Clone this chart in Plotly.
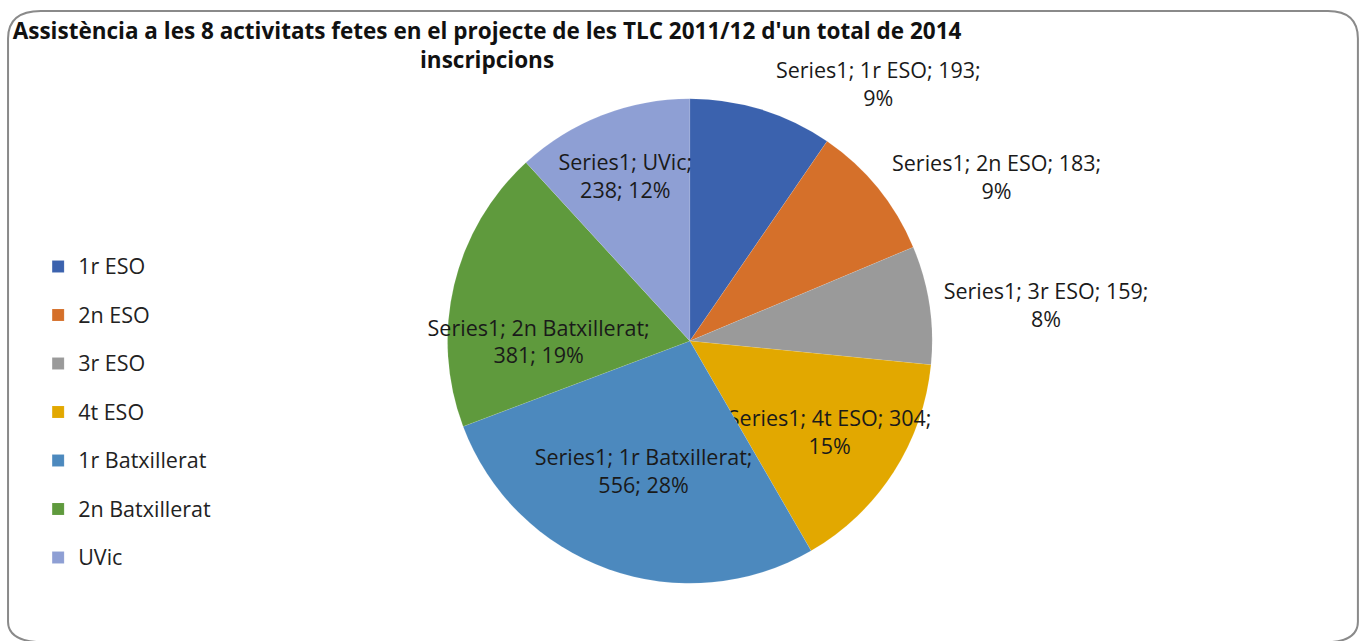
import plotly.graph_objects as go

# ---- data ----
series_name = "Series1"
categories = ["1r ESO", "2n ESO", "3r ESO", "4t ESO", "1r Batxillerat", "2n Batxillerat", "UVic"]
values = [193, 183, 159, 304, 556, 381, 238]
pct_labels = ["9%", "9%", "8%", "15%", "28%", "19%", "12%"]
title_line1 = "Assistència a les 8 activitats fetes en el projecte de les TLC 2011/12 d'un total de 2014"
title_line2 = "inscripcions"

colors = ["#3B62AE", "#D5702A", "#9A9A9A", "#E2A800", "#4C89BE", "#5F9A3D", "#8E9FD4"]
text_positions = ["outside", "outside", "outside", "inside", "inside", "inside", "inside"]
tpl_a = series_name + "; %{text}; %{value};<br>%{customdata}"
tpl_b = series_name + "; %{text};<br>%{value}; %{customdata}"
templates = [tpl_a, tpl_a, tpl_a, tpl_a, tpl_b, tpl_b, tpl_b]

FONT = "'Open Sans', Lato, sans-serif"
legend_label_style = "font-size:21.5px;baseline-shift:6.5px"

fig = go.Figure(
    go.Pie(
        labels=[f'<span style="{legend_label_style}">{c}</span>' for c in categories],
        text=categories,
        values=values,
        customdata=pct_labels,
        texttemplate=templates,
        textposition=text_positions,
        insidetextorientation="horizontal",
        sort=False,
        direction="clockwise",
        rotation=0,
        marker=dict(colors=colors, line=dict(color="rgba(255,255,255,0.2)", width=0.5)),
        textfont=dict(family=FONT, size=21.5, color="#1a1a1a"),
        domain=dict(x=[0.2, 0.813], y=[0.09, 0.846]),
        hovertemplate="%{text}: %{value} (%{customdata})<extra></extra>",
    )
)

fig.update_layout(
    width=1362,
    height=641,
    margin=dict(l=0, r=0, t=0, b=0, autoexpand=False),
    paper_bgcolor="white",
    plot_bgcolor="white",
    font=dict(family=FONT, color="#1a1a1a"),
    uniformtext=dict(minsize=21.5, mode="show"),
    title=dict(
        text=f"<b>{title_line1}</b><br><b>{title_line2}</b>",
        x=0.3576,
        xanchor="center",
        xref="paper",
        y=0.939,
        yref="container",
        yanchor="top",
        font=dict(family=FONT, size=22.5, color="#111111"),
    ),
    legend=dict(
        x=0.028,
        xanchor="left",
        y=0.357,
        yanchor="middle",
        font=dict(family=FONT, size=35, color="#222222"),
        bgcolor="rgba(0,0,0,0)",
    ),
    shapes=[
        dict(
            type="path",
            xref="paper",
            yref="paper",
            path="M 0.0059,0.03 L 0.0059,0.94 Q 0.0059,0.983 0.03,0.983 L 0.975,0.983 Q 0.997,0.983 0.997,0.94 L 0.997,0.03 Q 0.997,0.0 0.975,-0.002 L 0.03,-0.002 Q 0.0059,0.0 0.0059,0.03 Z",
            line=dict(color="#8a8a8a", width=2),
            layer="below",
        )
    ],
)

fig.write_html(
    "out.html",
    config={"displayModeBar": False},
    post_script="document.body.style.margin='0';",
)
